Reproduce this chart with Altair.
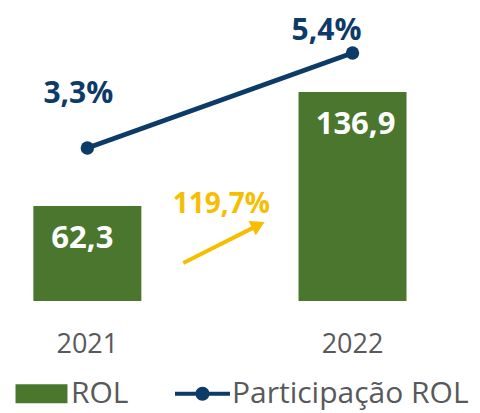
import altair as alt
import pandas as pd

# ---- data ----
years = [2021, 2022]
rol = [62.3, 136.9]                 # ROL (R$ mi)
participacao = [3.3, 5.4]           # Participação ROL (%)
series_names = ["ROL", "Participação ROL"]

GREEN = "#4A772D"
NAVY = "#0D3B68"
YELLOW = "#F6BE00"
GREY = "#58595B"
FONT = "Open Sans"


def br(v, pct=False):
    s = f"{v:.1f}".replace(".", ",")
    return s + "%" if pct else s


df = pd.DataFrame({"ano": years, "rol": rol, "part": participacao})
df["rol_txt"] = [br(v) for v in rol]
df["part_txt"] = [br(v, True) for v in participacao]
df["ano_txt"] = [str(y) for y in years]
df["zero"] = [0, 0]

growth = (rol[1] / rol[0] - 1) * 100
growth_df = pd.DataFrame({"x": [2021.5056], "y": [57.6], "txt": [br(growth, True)]})
arrow_df = pd.DataFrame({"x": [2021.3617], "y": [24.9], "x2": [2021.6450], "y2": [49.7]})
legend_df = pd.DataFrame({"serie": series_names})

W, H = 464, 405
xs = alt.Scale(domain=[2020.7196, 2022.4317], nice=False, zero=False)
ys_bar = alt.Scale(domain=[-73.36, 191.92], nice=False, zero=False)
ys_line = alt.Scale(domain=[-2.558, 6.3947], nice=False, zero=False)

base = alt.Chart(df)
X = alt.X("ano:Q", scale=xs, axis=None)

bars = base.mark_bar(color=GREEN, size=108, orient="vertical").encode(
    x=X, y=alt.Y("rol:Q", scale=ys_bar, axis=None), y2="zero:Q"
)
bar_txt1 = base.transform_filter("datum.ano == 2021").mark_text(
    font=FONT, fontSize=31, fontWeight="bold", color="white",
    baseline="alphabetic", dx=-5, dy=42).encode(
    x=X, y=alt.Y("rol:Q", scale=ys_bar, axis=None), text="rol_txt:N"
)
bar_txt2 = base.transform_filter("datum.ano == 2022").mark_text(
    font=FONT, fontSize=31, fontWeight="bold", color="white",
    baseline="alphabetic", dx=3, dy=42).encode(
    x=X, y=alt.Y("rol:Q", scale=ys_bar, axis=None), text="rol_txt:N"
)
year_txt = base.mark_text(font=FONT, fontSize=27, color=GREY, baseline="alphabetic",
                          dy=52).encode(
    x=X, y=alt.Y("zero:Q", scale=ys_bar, axis=None), text="ano_txt:N"
)
arrow = alt.Chart(arrow_df).mark_rule(color=YELLOW, strokeWidth=4).encode(
    x=alt.X("x:Q", scale=xs, axis=None), y=alt.Y("y:Q", scale=ys_bar, axis=None),
    x2="x2:Q", y2="y2:Q"
)
arrow_head = alt.Chart(arrow_df).mark_point(shape="triangle-up", filled=True, size=256,
                                            angle=63.7, color=YELLOW, opacity=1).encode(
    x=alt.X("x2:Q", scale=xs, axis=None), y=alt.Y("y2:Q", scale=ys_bar, axis=None)
)
growth_txt = alt.Chart(growth_df).mark_text(font=FONT, fontSize=28, fontWeight="bold",
                                            color=YELLOW, baseline="alphabetic").encode(
    x=alt.X("x:Q", scale=xs, axis=None), y=alt.Y("y:Q", scale=ys_bar, axis=None),
    text="txt:N"
)

line = base.mark_line(color=NAVY, strokeWidth=5,
                      point=alt.OverlayMarkDef(filled=True, size=180, color=NAVY, opacity=1)).encode(
    x=X, y=alt.Y("part:Q", scale=ys_line, axis=None)
)
pct1 = base.transform_filter("datum.ano == 2021").mark_text(
    font=FONT, fontSize=30, fontWeight="bold", color=NAVY, baseline="alphabetic",
    dx=-9, dy=-45).encode(x=X, y=alt.Y("part:Q", scale=ys_line, axis=None), text="part_txt:N")
pct2 = base.transform_filter("datum.ano == 2022").mark_text(
    font=FONT, fontSize=30, fontWeight="bold", color=NAVY, baseline="alphabetic",
    dx=-26, dy=-12.5).encode(x=X, y=alt.Y("part:Q", scale=ys_line, axis=None), text="part_txt:N")

rect_path = "M-0.945,-0.345H0.945V0.345H-0.945Z"
line_path = ("M-1,-0.073H1V0.073H-1Z "
             "M-0.255,0A0.255,0.255 0 1,1 0.255,0A0.255,0.255 0 1,1 -0.255,0Z")

leg = alt.Legend(orient="none", legendX=6, legendY=358,
                 direction="horizontal", title=None,
                 symbolSize=3025, symbolStrokeWidth=0,
                 symbolOpacity=1, labelFont=FONT,
                 labelFontSize=30, labelColor=GREY,
                 labelOffset=2, columnPadding=46, labelLimit=400)

legend_layer = alt.Chart(legend_df).mark_point(filled=True, opacity=0).encode(
    color=alt.Color("serie:N",
                    scale=alt.Scale(domain=series_names, range=[GREEN, NAVY]),
                    legend=leg),
    shape=alt.Shape("serie:N",
                    scale=alt.Scale(domain=series_names, range=[rect_path, line_path]),
                    legend=leg),
)

chart = alt.layer(bars, bar_txt1, bar_txt2, year_txt, arrow, arrow_head, growth_txt,
                  line, pct1, pct2, legend_layer).resolve_scale(
    y="independent"
).properties(
    width=W, height=H, padding=0, autosize=alt.AutoSizeParams(type="none")
).configure_view(stroke=None)

chart.save("out.html", embed_options={"renderer": "svg", "actions": False})
